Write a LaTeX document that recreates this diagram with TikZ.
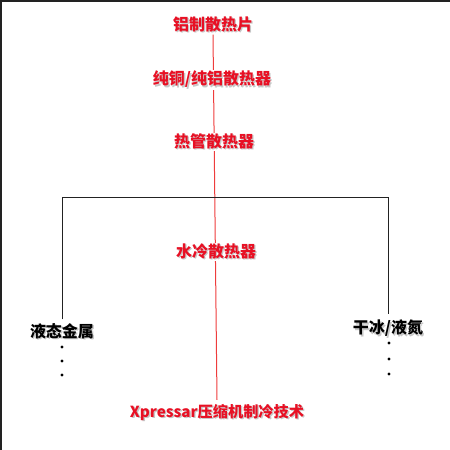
\documentclass[tikz,border=0pt]{standalone}
\usepackage{xcolor}
\usepackage{fontspec}
\newfontfamily\cjk{Noto Sans CJK SC}
\usetikzlibrary{calc, backgrounds}

\definecolor{labelred}{RGB}{232,16,36}
\definecolor{linered}{RGB}{238,60,60}
\definecolor{framegray}{RGB}{34,34,34}

% text with a soft drop shadow
\newcommand{\shadowed}[2]{%
  \makebox[0pt][l]{\raisebox{-1.4pt}{\hspace{1.4pt}\textcolor{black!22}{#2}}}%
  \textcolor{#1}{#2}}

\tikzset{
  redlabel/.style={fill=white, inner sep=1pt, font=\cjk\bfseries\fontsize{16}{19}\selectfont},
  blacklabel/.style={inner sep=1pt, font=\cjk\bfseries\fontsize{16}{19}\selectfont},
}

\begin{document}
\begin{tikzpicture}[x=1pt, y=-1pt]
        \useasboundingbox (0,0) rectangle (450,450);

        % frame on top and left
        \draw[framegray, line width=2pt] (1,450) -- (1,1) -- (450,1);

        % define red chain
        \coordinate (AluPos) at (213,25);
        \coordinate (CopperPos) at (212,80);
        \coordinate (PipePos) at (214,142);
        \coordinate (WaterPos) at (216,252);
        \coordinate (XpressPos) at (217,413);

        \node (alu) at (AluPos) [redlabel] {\shadowed{labelred}{铝制散热片}};
        \node (copper) at (CopperPos) [redlabel] {\shadowed{labelred}{纯铜/纯铝散热器}};
        \node (pipe) at (PipePos) [redlabel] {\shadowed{labelred}{热管散热器}};
        \node (water) at (WaterPos) [redlabel] {\shadowed{labelred}{水冷散热器}};
        \node (xpress) at (XpressPos) [redlabel, font=\cjk\bfseries\fontsize{15.2}{18}\selectfont]
            {\shadowed{labelred}{Xpressar压缩机制冷技术}};

        % side branches
        \coordinate (MetalPos) at (62,332);
        \coordinate (IcePos) at (388,329);
        \node (metal) at (MetalPos) [blacklabel] {\shadowed{black}{液态金属}};
        \node (ice) at (IcePos) [blacklabel] {\shadowed{black}{干冰/液氮}};

        \coordinate (branch_left) at (62,197);
        \coordinate (branch_right) at (388,197);

        \begin{scope}[on background layer]
            \draw[linered, line width=1pt] (alu.south) -- ([yshift=3pt]xpress.north);
        \end{scope}

        \draw[framegray, line width=1pt] ([yshift=3pt]metal.north) -- (branch_left)
            -- (branch_right) -- ([yshift=5pt]ice.north);

        % dots
        \foreach \dy in {347,361,375}
            \fill[black] (62,\dy) circle (1.7pt);
        \foreach \dy in {343,359,374}
            \fill[black] (389,\dy) circle (1.7pt);
    \end{tikzpicture}
\end{document}
